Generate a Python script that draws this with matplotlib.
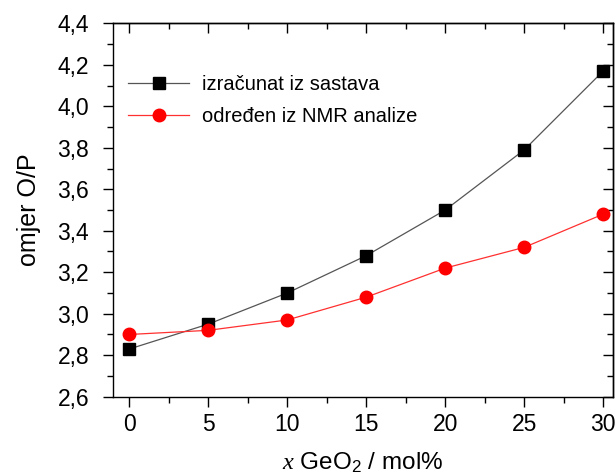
import matplotlib
matplotlib.use("Agg")
import matplotlib.pyplot as plt
from matplotlib.ticker import MultipleLocator, FuncFormatter

plt.rcParams['font.family'] = ['Liberation Sans', 'DejaVu Sans']
plt.rcParams['mathtext.fontset'] = 'custom'
plt.rcParams['mathtext.rm'] = 'Liberation Sans'
plt.rcParams['mathtext.it'] = 'Liberation Serif:italic'

# data
x_geo2 = [0, 5, 10, 15, 20, 25, 30]
op_composition = [2.83, 2.95, 3.10, 3.28, 3.50, 3.79, 4.17]
op_nmr = [2.90, 2.92, 2.97, 3.08, 3.22, 3.32, 3.48]
label_composition = "izračunat iz sastava"
label_nmr = "određen iz NMR analize"

fig = plt.figure(figsize=(6.15, 4.75), dpi=100)
ax = fig.add_axes([0.1833, 0.1648, 0.8130, 0.7862])

ax.plot(x_geo2, op_composition, color='#555555', lw=0.9, marker='s',
        ms=8, mfc='black', mec='black', label=label_composition)
ax.plot(x_geo2, op_nmr, color='#ff3030', lw=0.9, marker='o',
        ms=9, mfc='#ff0000', mec='#ff0000', label=label_nmr)

ax.set_xlim(-1.05, 30.6)
ax.set_ylim(2.6, 4.4)
ax.xaxis.set_major_locator(MultipleLocator(5))
ax.xaxis.set_minor_locator(MultipleLocator(2.5))
ax.yaxis.set_major_locator(MultipleLocator(0.2))
ax.yaxis.set_minor_locator(MultipleLocator(0.1))
ax.yaxis.set_major_formatter(FuncFormatter(lambda v, p: f"{v:.1f}".replace('.', ',')))

# outward ticks on bottom/left, inward on top/right
ax.tick_params(which='both', direction='out', labelsize=16.5, width=1.0,
               top=False, right=False)
ax.tick_params(which='major', length=7)
ax.tick_params(which='minor', length=4)
ax.tick_params(axis='y', which='major', pad=10)
ax.tick_params(axis='x', which='major', pad=5)
sec_x = ax.secondary_xaxis('top')
sec_x.xaxis.set_major_locator(MultipleLocator(5))
sec_x.xaxis.set_minor_locator(MultipleLocator(2.5))
sec_x.tick_params(which='both', direction='in', labeltop=False, width=1.0)
sec_x.tick_params(which='major', length=7)
sec_x.tick_params(which='minor', length=4)
sec_y = ax.secondary_yaxis('right')
sec_y.yaxis.set_major_locator(MultipleLocator(0.2))
sec_y.yaxis.set_minor_locator(MultipleLocator(0.1))
sec_y.tick_params(which='both', direction='in', labelright=False, width=1.0)
sec_y.tick_params(which='major', length=7)
sec_y.tick_params(which='minor', length=4)
for s in list(ax.spines.values()) + [sec_x.spines['top'], sec_y.spines['right']]:
    s.set_linewidth(1.0)

ax.set_xlabel(r"$x$ GeO$_2$ / mol%", fontsize=17.5, labelpad=10)
ax.set_ylabel("omjer O/P", fontsize=18, labelpad=12)

ax.legend(loc='upper left', bbox_to_anchor=(-0.005, 0.909), frameon=False,
          fontsize=14.5, handlelength=3.0, handletextpad=0.65, labelspacing=0.62)

fig.savefig("out.png", dpi=100)
